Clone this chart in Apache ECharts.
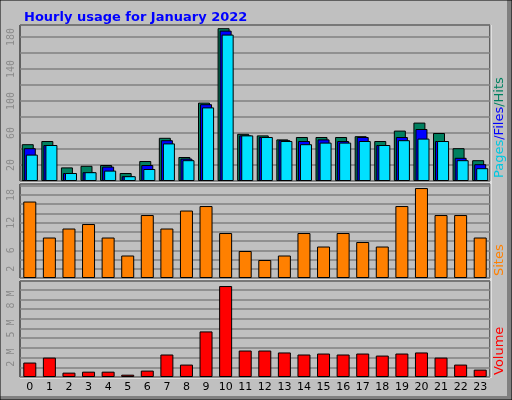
<!DOCTYPE html>
<html><head><meta charset="utf-8">
<script src="https://cdn.jsdelivr.net/npm/echarts@6/dist/echarts.min.js"></script>
<style>html,body{margin:0;padding:0;background:#c0c0c0}#c{width:512px;height:400px}</style>
</head><body><div id="c"></div>
<script>
var hours = ['0','1','2','3','4','5','6','7','8','9','10','11','12','13','14','15','16','17','18','19','20','21','22','23'];
var hits  = [46,50,17,19,20,10,25,54,30,98,191,59,57,52,55,55,55,56,50,63,73,60,41,26];
var files = [41,45,10,11,18,6,20,51,28,96,188,57,55,51,50,52,50,55,45,55,65,50,29,21];
var pages = [33,45,10,11,13,6,15,47,26,92,183,57,55,50,46,48,48,50,45,51,53,50,26,16];
var sites = [17,9,11,12,9,5,14,11,15,16,10,6,4,5,10,7,10,8,7,16,20,14,14,9];
var volumeM = [1.49,2.0,0.45,0.55,0.55,0.24,0.66,2.32,1.28,4.7,9.38,2.73,2.73,2.53,2.32,2.42,2.32,2.42,2.21,2.42,2.53,2.0,1.28,0.76];
var topLabels = {1:'20',3:'60',5:'100',7:'140',9:'180'};
var siteLabels = {1:'2',3:'6',6:'12',9:'18'};
var volLabels = {2:'2 M',5:'5 M',8:'8 M'};

var chart = echarts.init(document.getElementById('c'));
var lbl = {rotate:90,color:'#8a8a8a',fontFamily:'DejaVu Sans Mono',fontSize:10,margin:4};
var grids = [
  {left:20,right:22,top:25,height:156},
  {left:20,right:22,top:184,height:94},
  {left:20,right:22,top:281,height:96}
];
grids.forEach(function(g){g.show=true;g.borderColor='#000';g.borderWidth=1;g.backgroundColor='#c0c0c0';});
function xa(i,show){return {type:'category',gridIndex:i,data:hours,axisLine:{show:false},axisTick:{show:false},
  axisLabel:{show:show,interval:0,color:'#000',fontFamily:'DejaVu Sans',fontSize:11,margin:5}};}
function ya(i,max,intv,map){return {type:'value',gridIndex:i,min:0,max:max,interval:intv,
  splitLine:{lineStyle:{color:'#808080',width:1.5}},axisLine:{show:false},axisTick:{show:false},
  axisLabel:Object.assign({},lbl,{formatter:function(v){var k=Math.round(v/intv);return map[k]||'';}})};}
var bs = {borderColor:'#000',borderWidth:1};
chart.setOption({
  animation:false,
  backgroundColor:'#c0c0c0',
  title:{text:'Hourly usage for January 2022',left:19,top:6,textStyle:{color:'#0000ff',fontSize:13,fontWeight:'bold',fontFamily:'DejaVu Sans'}},
  grid:grids,
  xAxis:[xa(0,false),xa(1,false),xa(2,true)],
  yAxis:[ya(0,195,20,topLabels),ya(1,20.9,2.05,siteLabels),ya(2,9.9,1,volLabels)],
  series:[
    {type:'bar',xAxisIndex:0,yAxisIndex:0,data:hits,barWidth:12,barGap:'-83%',itemStyle:Object.assign({color:'#008060'},bs)},
    {type:'bar',xAxisIndex:0,yAxisIndex:0,data:files,barWidth:12,barGap:'-83%',itemStyle:Object.assign({color:'#0000ff'},bs)},
    {type:'bar',xAxisIndex:0,yAxisIndex:0,data:pages,barWidth:12,barGap:'-83%',itemStyle:Object.assign({color:'#00e0ff'},bs)},
    {type:'bar',xAxisIndex:1,yAxisIndex:1,data:sites,barWidth:13,itemStyle:Object.assign({color:'#ff8000'},bs)},
    {type:'bar',xAxisIndex:2,yAxisIndex:2,data:volumeM,barWidth:13,itemStyle:Object.assign({color:'#ff0000'},bs)}
  ],
  graphic:[
    {type:'rect',shape:{x:507,y:0,width:5,height:400},style:{fill:'#808080'}},
    {type:'rect',shape:{x:0,y:396,width:512,height:4},style:{fill:'#808080'}},
    {type:'rect',shape:{x:0,y:0,width:512,height:400},style:{fill:'none',stroke:'#000',lineWidth:1}},
    {type:'line',shape:{x1:20,y1:182,x2:490,y2:182},style:{stroke:'#fff',lineWidth:1}},
    {type:'line',shape:{x1:20,y1:279,x2:490,y2:279},style:{stroke:'#fff',lineWidth:1}},
    {type:'line',shape:{x1:20,y1:378,x2:490,y2:378},style:{stroke:'#fff',lineWidth:1}},
    {type:'line',shape:{x1:491,y1:25,x2:491,y2:378},style:{stroke:'#fff',lineWidth:1}},
    {type:'text',x:493,y:178,rotation:Math.PI/2,style:{text:'{p|Pages}{f|/Files}{h|/Hits}',fontSize:13,fontFamily:'DejaVu Sans',verticalAlign:'top',
      rich:{p:{fill:'#00c8e0',fontSize:13,fontFamily:'DejaVu Sans'},f:{fill:'#0000ff',fontSize:13,fontFamily:'DejaVu Sans'},h:{fill:'#008060',fontSize:13,fontFamily:'DejaVu Sans'}}}},
    {type:'text',x:493,y:276,rotation:Math.PI/2,style:{text:'Sites',fill:'#ff8000',fontSize:13,fontFamily:'DejaVu Sans',verticalAlign:'top'}},
    {type:'text',x:493,y:375,rotation:Math.PI/2,style:{text:'Volume',fill:'#ff0000',fontSize:13,fontFamily:'DejaVu Sans',verticalAlign:'top'}}
  ]
});
</script></body></html>
